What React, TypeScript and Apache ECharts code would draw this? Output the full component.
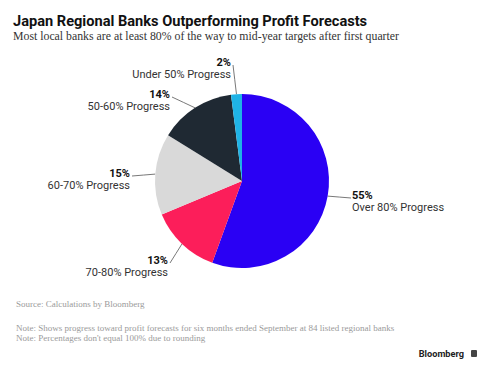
import React, { useEffect, useRef } from "react";
import * as echarts from "echarts";

const categories = [
  "Over 80% Progress",
  "70-80% Progress",
  "60-70% Progress",
  "50-60% Progress",
  "Under 50% Progress",
];
const shares = [55, 13, 15, 14, 2];
const colors = ["#2a00f4", "#fc1e5a", "#d9d9d9", "#1f2933", "#1fb3e6"];
// label block anchors (layout only)
const labelAnchors = [
  { x: 352, y: 189, align: "left" },
  { x: 168, y: 254, align: "right" },
  { x: 130, y: 167, align: "right" },
  { x: 170, y: 88, align: "right" },
  { x: 231, y: 56, align: "right" },
];

const titleText = "Japan Regional Banks Outperforming Profit Forecasts";
const subtitleText =
  "Most local banks are at least 80% of the way to mid-year targets after first quarter";
const sourceText = "Source: Calculations by Bloomberg";
const noteLines = [
  "Note: Shows progress toward profit forecasts for six months ended September at 84 listed regional banks",
  "Note: Percentages don't equal 100% due to rounding",
];

export default function App() {
  const ref = useRef<HTMLDivElement>(null);
  useEffect(() => {
    if (!ref.current) return;
    const chart = echarts.init(ref.current, undefined, { renderer: "svg" });
    const sans = "Roboto, 'Liberation Sans', Arial, sans-serif";
    const serif = "'Liberation Serif', 'DejaVu Serif', serif";
    chart.setOption({
      animation: false,
      backgroundColor: "#ffffff",
      graphic: [
        {
          type: "text",
          left: 13,
          top: 13,
          style: { text: titleText, font: `bold 14.6px ${sans}`, fill: "#111" },
        },
        {
          type: "text",
          left: 13,
          top: 30,
          style: { text: subtitleText, font: `11.8px ${serif}`, fill: "#333" },
        },
        {
          type: "text",
          left: 16,
          top: 299,
          style: { text: sourceText, font: `9px ${serif}`, fill: "#9a9a9a" },
        },
        {
          type: "text",
          left: 16,
          top: 323,
          style: { text: noteLines[0], font: `9px ${serif}`, fill: "#9a9a9a" },
        },
        {
          type: "text",
          left: 16,
          top: 333,
          style: { text: noteLines[1], font: `9px ${serif}`, fill: "#9a9a9a" },
        },
        {
          type: "text",
          right: 24,
          top: 349,
          style: { text: "Bloomberg", font: `bold 9.2px ${sans}`, fill: "#222" },
        },
        {
          type: "rect",
          left: 471,
          top: 350,
          shape: { width: 6, height: 7, r: 1 },
          style: { fill: "#444" },
        },
      ],
      series: [
        {
          type: "pie",
          center: [242, 181],
          radius: 87,
          startAngle: 90,
          clockwise: true,
          data: categories.map((name, i) => ({
            name,
            value: shares[i],
            itemStyle: { color: colors[i] },
          })),
          itemStyle: { borderWidth: 0 },
          label: {
            show: true,
            position: "outside",
            overflow: "none",
            formatter: "{v|{c}%}\n{n|{b}}",
            rich: {
              v: {
                fontFamily: sans,
                fontWeight: "bold",
                fontSize: 11,
                color: "#111",
                lineHeight: 12,
              },
              n: {
                fontFamily: sans,
                fontSize: 11,
                color: "#333",
                lineHeight: 13,
              },
            },
          },
          labelLine: {
            show: true,
            lineStyle: { color: "#555", width: 0.8 },
          },
          labelLayout: (p: any) => {
            const a = labelAnchors[p.dataIndex];
            const start = p.labelLinePoints ? p.labelLinePoints[0] : [a.x, a.y];
            const endX = a.align === "left" ? a.x - 1 : a.x + 2;
            const endY = a.y + 9;
            return {
              x: a.x,
              y: a.y,
              align: a.align,
              verticalAlign: "top",
              width: 130,
              labelLinePoints: [
                start,
                [(start[0] + endX) / 2, (start[1] + endY) / 2],
                [endX, endY],
              ],
            };
          },
        },
      ],
    });
    return () => chart.dispose();
  }, []);
  return (
    <div
      ref={ref}
      style={{ position: "fixed", left: 0, top: 0, width: 488, height: 370 }}
    />
  );
}
